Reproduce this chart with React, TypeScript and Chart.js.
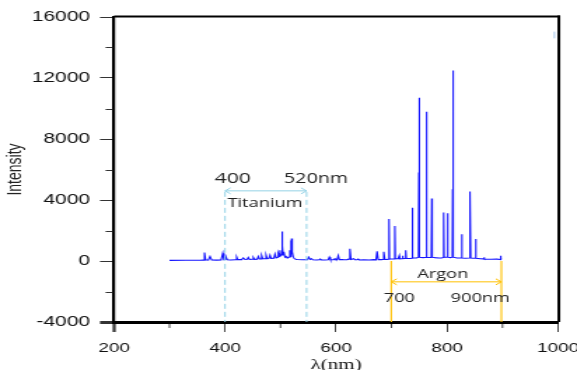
import React, { useEffect, useRef } from 'react';
import { Chart, registerables } from 'chart.js';

Chart.register(...registerables);

// ---------- data ----------
const tiWavelength = [
  300, 330, 355, 361, 363, 365, 370, 373, 376, 385,
  393, 396, 398, 401, 402, 404, 410, 419, 421, 423,
  430, 433, 436, 440, 442, 444, 449, 451, 453, 458,
  460, 462, 465, 466, 468, 472, 474, 476, 479, 481,
  483, 488, 490, 492, 495, 496, 498, 499, 500, 502,
  502.6, 503.2, 503.8, 504.5, 506, 508, 510, 512, 513, 515,
  516.8, 517.5, 518.5, 519.3, 520, 520.7, 521.5, 523, 525, 527,
  530, 540, 548, 551, 553, 556, 558, 565, 570, 572,
  574, 580, 586, 588, 590, 596, 598, 600, 602, 604,
  606, 612, 614, 620, 623, 625, 627, 632, 634, 638,
  640, 642, 650, 660, 668, 672, 674, 676, 682, 684,
  686, 688,
];
const tiIntensity = [
  40, 50, 45, 60, 550, 80, 60, 300, 70, 60,
  70, 510, 90, 120, 250, 80, 70, 80, 260, 90,
  90, 200, 100, 110, 230, 100, 110, 230, 110, 120,
  300, 130, 140, 350, 150, 150, 380, 150, 160, 380,
  170, 180, 450, 200, 250, 500, 300, 700, 350, 400,
  1940, 500, 1000, 400, 600, 250, 300, 200, 250, 250,
  700, 300, 1350, 500, 1480, 900, 600, 250, 150, 120,
  100, 80, 90, 250, 100, 150, 80, 70, 80, 120,
  70, 70, 80, 250, 80, 90, 150, 80, 90, 350,
  90, 100, 80, 90, 120, 800, 100, 150, 80, 80,
  130, 70, 80, 70, 90, 80, 630, 90, 90, 100,
  600, 110,
];
const arWavelength = [
  692, 694.7, 695.5, 696.3, 700, 705.2, 706, 706.8, 712, 713.3,
  714, 714.7, 718, 719.3, 720, 720.7, 724, 725.3, 726, 726.7,
  734, 736.7, 737.5, 738.3, 745, 748.6, 749.3, 749.7, 750.1, 750.9,
  757, 762.2, 763, 763.8, 768, 771.7, 772.5, 773.3, 778, 785,
  790, 793.2, 794, 794.8, 798, 800.2, 801, 801.8, 806, 809.6,
  810.2, 810.6, 811, 811.8, 818, 823, 825.7, 826.5, 827.3, 833,
  840.2, 840.9, 841.3, 841.9, 842.7, 847, 850.8, 851.6, 852.4, 860,
  865, 866.1, 866.8, 867.5, 880, 890, 896, 896.6, 897.3, 898,
];
const arIntensity = [
  100, 120, 2750, 150, 130, 130, 2300, 150, 150, 150,
  350, 140, 150, 150, 350, 150, 160, 160, 700, 160,
  160, 180, 3500, 200, 200, 250, 5800, 400, 10700, 250,
  220, 250, 9780, 250, 230, 230, 4100, 250, 220, 200,
  200, 230, 3180, 260, 250, 250, 3130, 250, 220, 250,
  4700, 400, 12500, 250, 200, 200, 200, 1760, 200, 180,
  200, 2550, 400, 4550, 200, 180, 180, 1440, 180, 150,
  140, 140, 250, 120, 110, 120, 100, 350, 150, 200,
];

const xMajorTicks = [200, 400, 600, 800, 1000];
const xMinorTicks = [300, 500, 700, 900];
const yMajorTicks = [-4000, 0, 4000, 8000, 12000, 16000];
const yMinorTicks = [-2000, 2000, 6000, 10000, 14000];

const titaniumRange = [400, 547];
const titaniumLabels = ['400', '520nm', 'Titanium'];
const argonRange = [699.5, 898];
const argonLabels = ['700', '900nm', 'Argon'];

// ---------- layout ----------
const SCREEN_W = 577;
const SCREEN_H = 370;
const CANVAS_W = 412;
const STRETCH = SCREEN_W / CANVAS_W;

const TI_COLOR = '#94d2e6';
const AR_COLOR = '#ffc000';
const TEXT_COLOR = '#222';
const ANNOT_FONT = '"Open Sans", "Noto Sans", sans-serif';

function hArrow(ctx: CanvasRenderingContext2D, x1: number, x2: number, y: number) {
  const hl = 4;
  const hh = 3;
  ctx.beginPath();
  ctx.moveTo(x1, y);
  ctx.lineTo(x2, y);
  ctx.moveTo(x1 + hl, y - hh);
  ctx.lineTo(x1, y);
  ctx.lineTo(x1 + hl, y + hh);
  ctx.moveTo(x2 - hl, y - hh);
  ctx.lineTo(x2, y);
  ctx.lineTo(x2 - hl, y + hh);
  ctx.stroke();
}

const overlayPlugin = {
  id: 'overlay',
  afterDraw(chart: any) {
    const { ctx, chartArea: a, scales } = chart;
    const xs = scales.x;
    const ys = scales.y;
    ctx.save();

    // top and right frame
    ctx.strokeStyle = '#000';
    ctx.lineWidth = 2;
    ctx.beginPath();
    ctx.moveTo(a.left, a.top - 0.5);
    ctx.lineTo(a.right + 1.5, a.top - 0.5);
    ctx.stroke();
    ctx.lineWidth = 2;
    ctx.beginPath();
    ctx.moveTo(a.right + 0.6, a.top - 1.5);
    ctx.lineTo(a.right + 0.6, a.bottom);
    ctx.stroke();

    // minor ticks
    ctx.strokeStyle = '#333';
    ctx.lineWidth = 1;
    yMinorTicks.forEach((v) => {
      const py = Math.round(ys.getPixelForValue(v)) + 0.5;
      ctx.beginPath();
      ctx.moveTo(a.left - 6, py);
      ctx.lineTo(a.left - 1, py);
      ctx.stroke();
    });
    ctx.lineWidth = 0.9;
    xMinorTicks.forEach((v) => {
      const px = xs.getPixelForValue(v);
      ctx.beginPath();
      ctx.moveTo(px, a.bottom + 2);
      ctx.lineTo(px, a.bottom + 6);
      ctx.stroke();
    });

    // Titanium annotation
    const tx1 = xs.getPixelForValue(titaniumRange[0]);
    const tx2 = xs.getPixelForValue(titaniumRange[1]);
    const tArrowY = ys.getPixelForValue(4600);
    ctx.strokeStyle = TI_COLOR;
    ctx.lineWidth = 1;
    ctx.setLineDash([5, 3]);
    [tx1, tx2].forEach((px) => {
      ctx.beginPath();
      ctx.moveTo(px, tArrowY + 1);
      ctx.lineTo(px, a.bottom);
      ctx.stroke();
    });
    ctx.setLineDash([]);
    hArrow(ctx, tx1, tx2, tArrowY);

    ctx.fillStyle = TEXT_COLOR;
    ctx.textAlign = 'center';
    ctx.textBaseline = 'alphabetic';
    ctx.font = `15px ${ANNOT_FONT}`;
    ctx.fillText(titaniumLabels[0], xs.getPixelForValue(414), ys.getPixelForValue(5085));
    ctx.font = `14px ${ANNOT_FONT}`;
    ctx.fillText(titaniumLabels[1], xs.getPixelForValue(564), ys.getPixelForValue(5085));
    ctx.font = `13px ${ANNOT_FONT}`;
    ctx.fillText(titaniumLabels[2], xs.getPixelForValue(472), ys.getPixelForValue(3540));

    // Argon annotation
    const ax1 = xs.getPixelForValue(argonRange[0]);
    const ax2 = xs.getPixelForValue(argonRange[1]);
    const aTop = ys.getPixelForValue(0);
    const aArrowY = ys.getPixelForValue(-1366);
    ctx.strokeStyle = AR_COLOR;
    ctx.lineWidth = 1.1;
    [ax1, ax2].forEach((px) => {
      ctx.beginPath();
      ctx.moveTo(px, aTop);
      ctx.lineTo(px, a.bottom);
      ctx.stroke();
    });
    ctx.lineWidth = 1;
    hArrow(ctx, ax1, ax2, aArrowY);

    ctx.fillStyle = TEXT_COLOR;
    ctx.font = `13px ${ANNOT_FONT}`;
    ctx.fillText(argonLabels[2], xs.getPixelForValue(792.4), ys.getPixelForValue(-1144));
    ctx.fillText(argonLabels[0], xs.getPixelForValue(714), ys.getPixelForValue(-2673));
    ctx.fillText(argonLabels[1], xs.getPixelForValue(860), ys.getPixelForValue(-2673));

    // small stray mark near top right
    ctx.strokeStyle = '#a8c8ec';
    ctx.lineWidth = 1;
    const mx = xs.getPixelForValue(993.5);
    ctx.beginPath();
    ctx.moveTo(mx, ys.getPixelForValue(15040));
    ctx.lineTo(mx, ys.getPixelForValue(14600));
    ctx.stroke();

    ctx.restore();
  },
};

export default function App() {
  const canvasRef = useRef<HTMLCanvasElement | null>(null);

  useEffect(() => {
    const canvas = canvasRef.current;
    if (!canvas) return;
    const wl = [...tiWavelength, ...arWavelength];
    const it = [...tiIntensity, ...arIntensity];
    const points = wl.map((x, i) => ({ x, y: it[i] }));

    const chart = new Chart(canvas, {
      type: 'line',
      data: {
        datasets: [
          {
            data: points,
            borderColor: '#1414ff',
            borderWidth: 1.1,
            pointRadius: 0,
            tension: 0,
            fill: false,
          },
        ],
      },
      options: {
        animation: false,
        responsive: false,
        devicePixelRatio: 1,
        layout: { padding: { left: 0, right: CANVAS_W - 558 / STRETCH, top: 17, bottom: 0 } },
        plugins: {
          legend: { display: false },
          tooltip: { enabled: false },
        },
        scales: {
          x: {
            type: 'linear',
            min: 200,
            max: 1000,
            afterBuildTicks: (s: any) => {
              s.ticks = xMajorTicks.map((v) => ({ value: v }));
            },
            afterFit: (s: any) => {
              s.height = 48;
              s.paddingLeft = 0;
              s.paddingRight = 0;
            },
            ticks: {
              autoSkip: false,
              maxRotation: 0,
              padding: 8,
              color: '#111',
              font: { family: '"Liberation Sans", Arial, sans-serif', size: 13.5 },
              callback: (v: any) => String(v),
            },
            grid: {
              display: true,
              drawOnChartArea: false,
              drawTicks: true,
              tickLength: 10,
              tickColor: '#333',
              tickWidth: (c: any) => (c.index === 0 ? 2.2 : 0.9),
            },
            border: { display: true, color: '#000', width: 3 },
            title: {
              display: true,
              text: 'λ(nm)',
              color: '#111',
              font: { family: '"Liberation Serif", "Times New Roman", serif', size: 15 },
              padding: { top: 0, bottom: -4 },
            },
          },
          y: {
            type: 'linear',
            min: -4000,
            max: 16000,
            afterBuildTicks: (s: any) => {
              s.ticks = yMajorTicks.map((v) => ({ value: v }));
            },
            afterFit: (s: any) => {
              s.width = 114 / STRETCH;
              s.paddingTop = 0;
              s.paddingBottom = 0;
            },
            ticks: {
              padding: 7,
              color: '#111',
              font: { family: '"Liberation Sans", Arial, sans-serif', size: 15 },
              callback: (v: any) => String(v),
            },
            grid: {
              display: true,
              drawOnChartArea: false,
              drawTicks: true,
              tickLength: 10,
              tickColor: '#333',
              tickWidth: (c: any) => (c.index === 0 ? 3 : 1),
            },
            border: { display: true, color: '#000', width: 2.2 },
            title: {
              display: true,
              text: 'Intensity',
              color: '#222',
              font: { family: '"Liberation Sans", Arial, sans-serif', size: 14 },
              padding: { top: 2.3, bottom: 0 },
            },
          },
        },
      },
      plugins: [overlayPlugin],
    } as any);

    return () => chart.destroy();
  }, []);

  return (
    <div
      style={{
        position: 'fixed',
        left: 0,
        top: 0,
        width: SCREEN_W,
        height: SCREEN_H,
        background: '#fff',
        overflow: 'hidden',
      }}
    >
      <canvas
        ref={canvasRef}
        width={CANVAS_W}
        height={SCREEN_H}
        style={{ width: SCREEN_W + 'px', height: SCREEN_H + 'px', display: 'block' }}
      />
    </div>
  );
}
